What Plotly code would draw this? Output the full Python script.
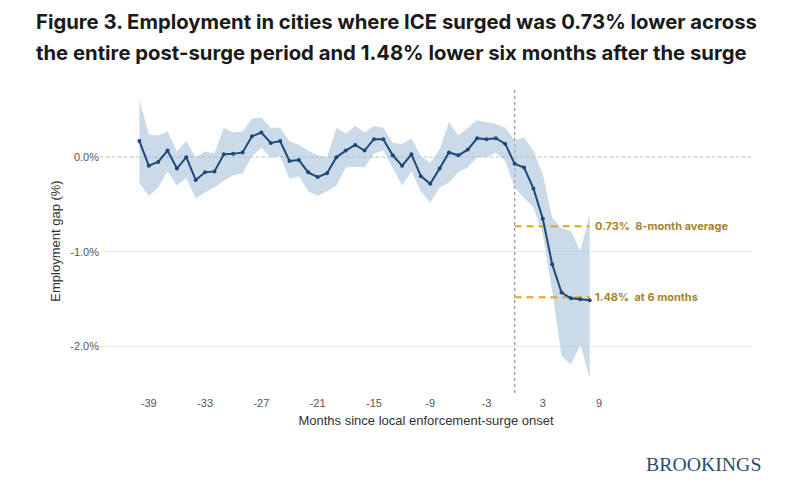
import plotly.graph_objects as go

# months relative to surge onset
months = list(range(-40, 9))

# employment gap estimate (%)
gap = [
    0.17, -0.09, -0.05, 0.07, -0.12, 0.00, -0.24, -0.16, -0.15, 0.03,
    0.035, 0.05, 0.22, 0.26, 0.15, 0.17, -0.04, -0.03, -0.16, -0.21,
    -0.17, 0.00, 0.07, 0.13, 0.07, 0.19, 0.19, 0.02, -0.09, 0.03,
    -0.20, -0.28, -0.12, 0.05, 0.02, 0.08, 0.20, 0.19, 0.20, 0.14,
    -0.07, -0.11, -0.33, -0.65, -1.13, -1.43, -1.49, -1.50, -1.51,
]

# 95% confidence band
upper = [
    0.61, 0.24, 0.23, 0.27, 0.06, 0.17, 0.00, 0.06, 0.04, 0.31,
    0.26, 0.27, 0.41, 0.42, 0.31, 0.31, 0.17, 0.13, 0.07, 0.02,
    0.00, 0.31, 0.25, 0.33, 0.26, 0.33, 0.31, 0.15, 0.14, 0.20,
    0.01, -0.06, 0.08, 0.37, 0.23, 0.31, 0.39, 0.37, 0.35, 0.31,
    0.18, 0.21, 0.07, -0.18, -0.64, -0.75, -0.78, -0.99, -0.60,
]
lower = [
    -0.27, -0.41, -0.32, -0.15, -0.30, -0.22, -0.44, -0.37, -0.32, -0.25,
    -0.19, -0.17, 0.01, 0.10, 0.00, 0.01, -0.23, -0.20, -0.36, -0.41,
    -0.36, -0.30, -0.11, -0.10, -0.11, 0.04, 0.07, -0.11, -0.30, -0.15,
    -0.36, -0.48, -0.32, -0.27, -0.16, -0.11, 0.00, 0.00, 0.05, -0.04,
    -0.32, -0.43, -0.53, -0.81, -1.41, -2.10, -2.19, -1.98, -2.33,
]

avg_post = 0.73
at_six = 1.48

x_ticks = [-39, -33, -27, -21, -15, -9, -3, 3, 9]
y_ticks = [0, -1, -2]

NAVY = "#1d4877"
GOLD_LINE = "#e8a317"
GOLD_TEXT = "#a8832a"

fig = go.Figure()

fig.add_trace(go.Scatter(x=months, y=upper, mode="lines", line={"width": 0},
                         hoverinfo="skip", showlegend=False))
fig.add_trace(go.Scatter(x=months, y=lower, mode="lines", line={"width": 0},
                         fill="tonexty", fillcolor="rgba(160,187,215,0.55)",
                         hoverinfo="skip", showlegend=False))

post = [m for m in months if m >= 0]
for val in (avg_post, at_six):
    fig.add_trace(go.Scatter(
        x=[post[0], post[-1]], y=[-val, -val], mode="lines",
        line={"color": GOLD_LINE, "width": 2, "dash": "7px,5px"},
        hoverinfo="skip", showlegend=False,
    ))

fig.add_trace(go.Scatter(
    x=months, y=gap, mode="lines+markers",
    line={"color": NAVY, "width": 2},
    marker={"color": NAVY, "size": 4},
    showlegend=False,
))

fig.add_shape(type="line", xref="paper", x0=0, x1=1, yref="y", y0=0, y1=0,
              line={"color": "#aaaaaa", "width": 1.3, "dash": "3px,3px"}, layer="below")
fig.add_shape(type="line", xref="x", x0=0, x1=0, yref="paper", y0=0, y1=1,
              line={"color": "#999999", "width": 1.3, "dash": "3px,3px"}, layer="below")

fig.add_annotation(x=post[-1], y=-avg_post, xanchor="left", showarrow=False, xshift=3,
                   text=f"{avg_post:.2f}%  8-month average",
                   font={"family": "Inter, Arial", "size": 11, "color": GOLD_TEXT, "weight": "bold"})
fig.add_annotation(x=post[-1], y=-at_six, xanchor="left", showarrow=False, xshift=3,
                   text=f"{at_six:.2f}%  at 6 months",
                   font={"family": "Inter, Arial", "size": 11, "color": GOLD_TEXT, "weight": "bold"})

title_lines = [
    "Figure 3. Employment in cities where ICE surged was 0.73% lower across",
    "the entire post-surge period and 1.48% lower six months after the surge",
]
for i, line in enumerate(title_lines):
    fig.add_annotation(xref="paper", yref="paper", x=-66 / 652, y=1 + (68 - 31 * i) / 304,
                       xanchor="left", yanchor="middle", showarrow=False, text=line,
                       font={"family": "Inter", "size": 20.3, "color": "#1a1a1a", "weight": "bold"})

fig.add_annotation(xref="paper", yref="paper", x=1 + 11 / 652, y=-0.232, xanchor="right", yanchor="middle",
                   showarrow=False, text="BROOKINGS",
                   font={"family": "Liberation Serif", "size": 19.8, "color": "#2c4a78"})

fig.update_layout(
    width=780, height=478,
    margin={"l": 92, "r": 36, "t": 81, "b": 93},
    paper_bgcolor="white", plot_bgcolor="white",
    font={"family": "Liberation Sans, Arial", "color": "#555555"},
    xaxis={
        "range": [-44.2, 25.3], "tickvals": x_ticks, "ticktext": [str(v) for v in x_ticks],
        "showgrid": False, "zeroline": False, "automargin": False,
        "showline": False, "ticks": "", "ticklabelstandoff": 2,
        "tickfont": {"size": 11, "color": "#555555"},
        "title": {"text": "Months since local enforcement-surge onset", "standoff": 7,
                  "font": {"size": 13, "color": "#333333"}},
    },
    yaxis={
        "range": [-2.49, 0.72], "tickvals": y_ticks, "ticktext": [f"{v:.1f}%" for v in y_ticks],
        "showgrid": True, "gridcolor": "#ebebeb", "zeroline": False, "showline": False, "ticks": "",
        "automargin": False, "tickfont": {"size": 11, "color": "#555555"},
        "title": {"text": "Employment gap (%)", "standoff": 6,
                  "font": {"size": 13, "color": "#333333"}},
    },
)

fig.write_html("out.html")
